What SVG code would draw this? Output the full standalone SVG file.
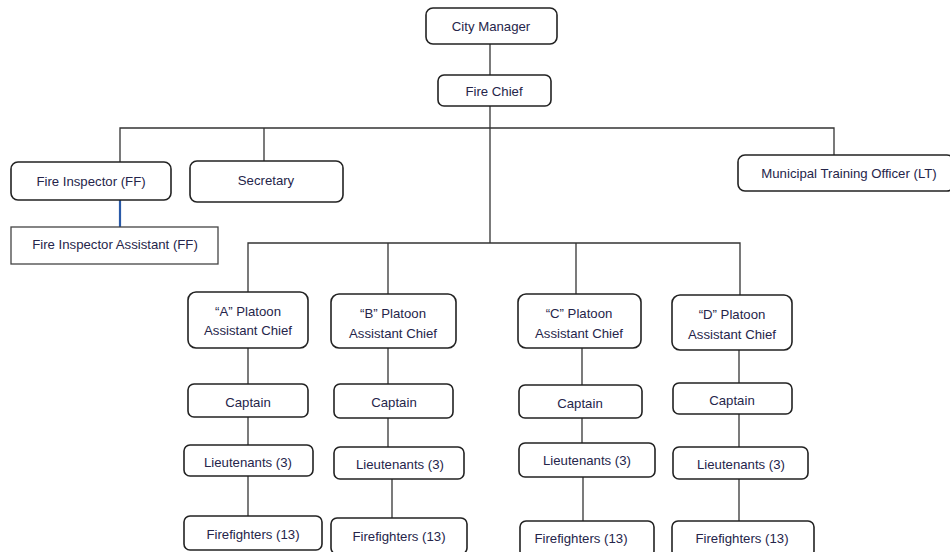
<svg xmlns="http://www.w3.org/2000/svg" width="950" height="552" viewBox="0 0 950 552">
  <style>
    .box { fill: #ffffff; stroke: #222222; stroke-width: 1.6; }
    .sq { fill: #ffffff; stroke: #444444; stroke-width: 1.3; }
    .lbl { font-family: "Liberation Sans", Arial, sans-serif; font-size: 13.2px; fill: #25254a; text-anchor: middle; dominant-baseline: central; }
    .wire { stroke: #333333; stroke-width: 1.3; fill: none; }
    .blue { stroke: #2a5aa8; stroke-width: 2.2; fill: none; }
  </style>
  <rect x="0" y="0" width="950" height="552" fill="#ffffff"/>

  <!-- connectors -->
  <g id="connectors">
    <line class="wire" x1="490" y1="44" x2="490" y2="75"/>
    <line class="wire" x1="490" y1="106" x2="490" y2="243"/>
    <polyline class="wire" points="120,162 120,128 834,128 834,155"/>
    <line class="wire" x1="264" y1="128" x2="264" y2="161"/>
    <line class="blue" x1="120" y1="200" x2="120" y2="227"/>
    <polyline class="wire" points="248,292 248,243 740,243 740,295"/>
    <line class="wire" x1="388" y1="243" x2="388" y2="294"/>
    <line class="wire" x1="576" y1="243" x2="576" y2="294"/>
    <!-- A column -->
    <line class="wire" x1="248" y1="348" x2="248" y2="384"/>
    <line class="wire" x1="248" y1="417" x2="248" y2="445"/>
    <line class="wire" x1="248" y1="476" x2="248" y2="516"/>
    <!-- B column -->
    <line class="wire" x1="388" y1="348" x2="388" y2="384"/>
    <line class="wire" x1="388" y1="418" x2="388" y2="447"/>
    <line class="wire" x1="392" y1="479" x2="392" y2="518"/>
    <!-- C column -->
    <line class="wire" x1="582" y1="348" x2="582" y2="385"/>
    <line class="wire" x1="582" y1="418" x2="582" y2="443"/>
    <line class="wire" x1="583" y1="477" x2="583" y2="521"/>
    <!-- D column -->
    <line class="wire" x1="739" y1="350" x2="739" y2="383"/>
    <line class="wire" x1="739" y1="414" x2="739" y2="447"/>
    <line class="wire" x1="739" y1="479" x2="739" y2="521"/>
  </g>

  <g id="city-manager"><rect class="box" x="426" y="8" width="131" height="36" rx="7"/><text class="lbl" x="491" y="26">City Manager</text></g>
  <g id="fire-chief"><rect class="box" x="438" y="75" width="113" height="31" rx="6"/><text class="lbl" x="494" y="91">Fire Chief</text></g>
  <g id="fire-inspector"><rect class="box" x="11" y="162" width="160" height="38" rx="7"/><text class="lbl" x="91" y="181">Fire Inspector (FF)</text></g>
  <g id="secretary"><rect class="box" x="190" y="161" width="153" height="41" rx="7"/><text class="lbl" x="266" y="180">Secretary</text></g>
  <g id="fire-inspector-assistant"><rect class="sq" x="11" y="227" width="207" height="37"/><text class="lbl" x="115" y="244">Fire Inspector Assistant (FF)</text></g>
  <g id="training-officer"><rect class="box" x="738" y="155" width="216" height="36" rx="7"/><text class="lbl" x="849" y="173">Municipal Training Officer (LT)</text></g>

  <g id="platoon-a"><rect class="box" x="188" y="292" width="120" height="56" rx="8"/><text class="lbl" x="248" y="311">“A” Platoon</text><text class="lbl" x="248" y="330">Assistant Chief</text></g>
  <g id="platoon-b"><rect class="box" x="331" y="294" width="125" height="54" rx="8"/><text class="lbl" x="393" y="313">“B” Platoon</text><text class="lbl" x="393" y="333">Assistant Chief</text></g>
  <g id="platoon-c"><rect class="box" x="518" y="294" width="123" height="54" rx="8"/><text class="lbl" x="579" y="313">“C” Platoon</text><text class="lbl" x="579" y="333">Assistant Chief</text></g>
  <g id="platoon-d"><rect class="box" x="672" y="295" width="120" height="55" rx="8"/><text class="lbl" x="732" y="314">“D” Platoon</text><text class="lbl" x="732" y="334">Assistant Chief</text></g>

  <g id="captain-a"><rect class="box" x="188" y="384" width="120" height="33" rx="6"/><text class="lbl" x="248" y="402">Captain</text></g>
  <g id="captain-b"><rect class="box" x="334" y="384" width="119" height="34" rx="6"/><text class="lbl" x="394" y="402">Captain</text></g>
  <g id="captain-c"><rect class="box" x="519" y="385" width="123" height="33" rx="6"/><text class="lbl" x="580" y="403">Captain</text></g>
  <g id="captain-d"><rect class="box" x="673" y="383" width="119" height="31" rx="6"/><text class="lbl" x="732" y="400">Captain</text></g>

  <g id="lieutenants-a"><rect class="box" x="184" y="445" width="129" height="31" rx="6"/><text class="lbl" x="248" y="462">Lieutenants (3)</text></g>
  <g id="lieutenants-b"><rect class="box" x="334" y="447" width="130" height="32" rx="6"/><text class="lbl" x="400" y="464">Lieutenants (3)</text></g>
  <g id="lieutenants-c"><rect class="box" x="519" y="443" width="136" height="34" rx="6"/><text class="lbl" x="587" y="460">Lieutenants (3)</text></g>
  <g id="lieutenants-d"><rect class="box" x="673" y="447" width="135" height="32" rx="6"/><text class="lbl" x="741" y="464">Lieutenants (3)</text></g>

  <g id="firefighters-a"><rect class="box" x="184" y="516" width="138" height="34" rx="6"/><text class="lbl" x="253" y="534">Firefighters (13)</text></g>
  <g id="firefighters-b"><rect class="box" x="331" y="518" width="136" height="36" rx="6"/><text class="lbl" x="399" y="536">Firefighters (13)</text></g>
  <g id="firefighters-c"><rect class="box" x="520" y="521" width="134" height="36" rx="6"/><text class="lbl" x="581" y="538">Firefighters (13)</text></g>
  <g id="firefighters-d"><rect class="box" x="672" y="521" width="142" height="36" rx="6"/><text class="lbl" x="742" y="538">Firefighters (13)</text></g>
</svg>
